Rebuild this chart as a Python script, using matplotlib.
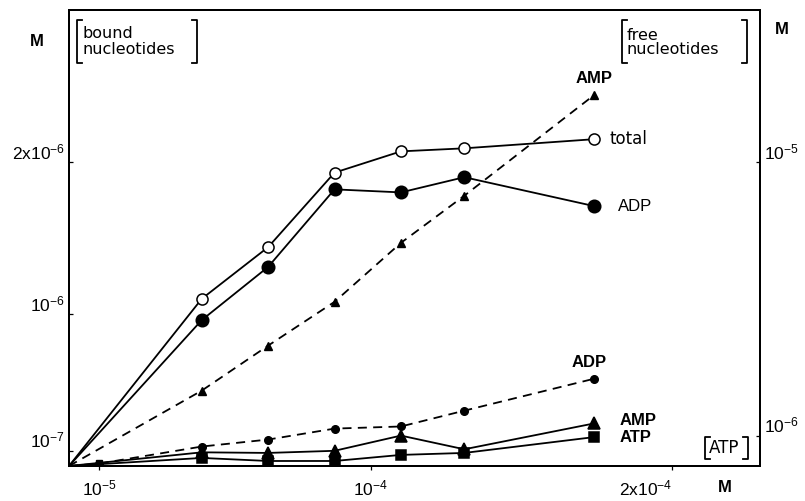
import numpy as np
import matplotlib
matplotlib.use("Agg")
import matplotlib.pyplot as plt
from matplotlib.lines import Line2D

plt.rcParams['font.family'] = ['Liberation Sans', 'DejaVu Sans']
plt.rcParams['mathtext.default'] = 'regular'

# ATP concentration [M] at each measurement
atp_conc = np.array([44, 66, 88, 110, 131, 174]) * 1e-6

# bound nucleotides [M] (left axis)
total_bound = np.array([1.10, 1.44, 1.93, 2.07, 2.09, 2.15]) * 1e-6
adp_bound = np.array([0.96, 1.31, 1.82, 1.80, 1.90, 1.71]) * 1e-6
amp_bound = np.array([0.09, 0.086, 0.10, 0.20, 0.11, 0.28]) * 1e-6
atp_bound = np.array([0.053, 0.033, 0.033, 0.073, 0.086, 0.19]) * 1e-6

# free nucleotides [M] (right axis)
amp_free = np.array([2.48, 3.96, 5.40, 7.34, 8.89, 12.2]) * 1e-6
adp_free = np.array([0.64, 0.87, 1.23, 1.30, 1.82, 2.87]) * 1e-6

# low-ATP point at 10^-5 M
low_conc = 1e-5
atp_bound_low = 0.02e-6
adp_free_low = 0.08e-6

W, H = 805, 501
WIDE = ['DejaVu Sans']


def fpx(x, y):
    """pixel position -> figure fraction"""
    return x / W, 1 - y / H


def with_origin(x, y):
    return np.concatenate([[0.0], x]), np.concatenate([[0.0], y])


fig = plt.figure(figsize=(W / 100, H / 100), dpi=100)
fig.patch.set_facecolor('white')
ax = fig.add_axes([69 / W, 1 - 466 / H, (760 - 69) / W, (466 - 10) / H])
ax2 = ax.twinx()

ax.set_xlim(0, 2.29e-4)
ax.set_ylim(0, 3.0e-6)
ax2.set_ylim(0, 1.5e-5)

lw = 1.3
# bound series, solid
for yv, mk, mfc, ms in [(total_bound, 'o', 'white', 8),
                        (adp_bound, 'o', 'black', 9),
                        (amp_bound, '^', 'black', 8),
                        (atp_bound, 's', 'black', 7.5)]:
    xs, ys = with_origin(atp_conc, yv)
    ax.plot(xs, ys, color='black', lw=lw, marker=mk, mfc=mfc, mec='black',
            ms=ms, mew=1.1, markevery=list(range(1, len(xs))), zorder=3)

ax.plot([low_conc], [atp_bound_low], 's', color='black', ms=5, zorder=3)

# free series, dashed
xs, ys = with_origin(atp_conc, amp_free)
ax2.plot(xs, ys, color='black', lw=lw, ls=(0, (5, 3.5)), marker='^', ms=5.5,
         markevery=list(range(1, len(xs))))
xs = np.concatenate([[0.0, low_conc], atp_conc])
ys = np.concatenate([[0.0, adp_free_low], adp_free])
ax2.plot(xs, ys, color='black', lw=lw, ls=(0, (5, 3.5)), marker='o', ms=5.5,
         markevery=list(range(1, len(xs))))

# ticks
ax.set_xticks([1e-5, 1e-4, 2e-4])
ax.set_xticklabels(['10$^{-5}$', '10$^{-4}$', '2x10$^{-4}$'])
ax.set_yticks([1e-7, 1e-6, 2e-6])
ax.set_yticklabels(['10$^{-7}$', '10$^{-6}$', '2x10$^{-6}$'])
ax2.set_yticks([1e-6, 1e-5])
ax2.set_yticklabels(['10$^{-6}$', '10$^{-5}$'])
for a in (ax, ax2):
    a.tick_params(direction='in', length=3, width=0.9, labelsize=12.5, pad=3)
    for s in a.spines.values():
        s.set_linewidth(1.4)
ax.tick_params(axis='x', direction='out', pad=6)
for lbl in ax.get_yticklabels() + ax2.get_yticklabels():
    lbl.set_va('bottom')
ax.get_xticklabels()[2].set_ha('right')

# curve labels
txt = dict(fontsize=12, color='black')
ax.text(174e-6, 2.55e-6, 'AMP', ha='center', va='center', weight='bold', **txt)
ax.text(179e-6, 2.15e-6, 'total', ha='left', va='center', family=WIDE, **txt)
ax.text(182e-6, 1.71e-6, 'ADP', ha='left', va='center', **txt)
ax.text(172.5e-6, 0.68e-6, 'ADP', ha='center', va='center', weight='bold', **txt)
ax.text(182.5e-6, 0.30e-6, 'AMP', ha='left', va='center', weight='bold', **txt)
ax.text(182.5e-6, 0.185e-6, 'ATP', ha='left', va='center', weight='bold', **txt)

# unit labels
for px, py in [(37, 42), (782, 30), (725, 488)]:
    fig.text(*fpx(px, py), 'M', ha='center', va='center', weight='bold',
             fontsize=12)


def bracket_label(x0, x1, y0, y1, lines, tx, ty, size=11.5, dy=15):
    """square brackets drawn around a block of text, pixel coordinates"""
    ser = 5
    for xs, ys in [([x0 + ser, x0, x0, x0 + ser], [y0, y0, y1, y1]),
                   ([x1 - ser, x1, x1, x1 - ser], [y0, y0, y1, y1])]:
        fx = [x / W for x in xs]
        fy = [1 - y / H for y in ys]
        fig.add_artist(Line2D(fx, fy, color='black', lw=1.3,
                              transform=fig.transFigure))
    for i, s in enumerate(lines):
        fig.text(*fpx(tx, ty + i * dy), s, ha='left', va='center',
                 fontsize=size, family=WIDE)


bracket_label(77, 197, 20, 63, ['bound', 'nucleotides'], 82, 34)
bracket_label(622, 747, 20, 63, ['free', 'nucleotides'], 627, 35)
bracket_label(705, 748, 437, 459, ['ATP'], 709, 448, size=12)

fig.savefig('out.png', dpi=100, facecolor='white')
